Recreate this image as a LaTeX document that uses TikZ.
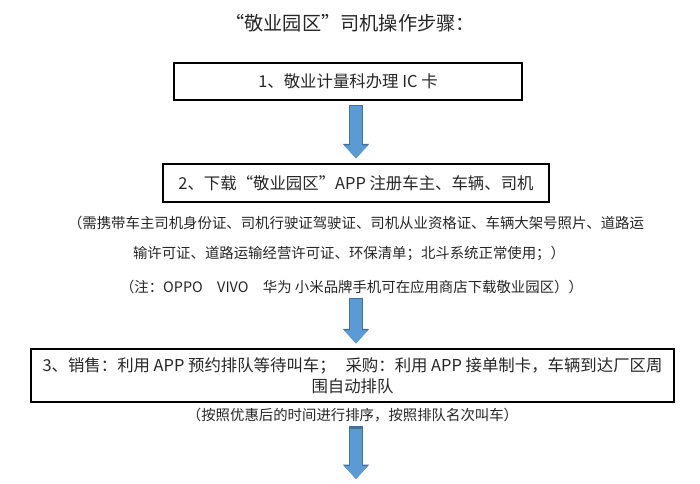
\documentclass[tikz,border=0pt]{standalone}
\usepackage{fontspec}
\setmainfont{Noto Sans CJK SC}
\usetikzlibrary{arrows.meta}
\definecolor{arrowblue}{HTML}{5B9BD5}
\definecolor{arrowedge}{HTML}{41719C}
\definecolor{textgray}{HTML}{262626}

\begin{document}
\begin{tikzpicture}[x=1pt, y=-1pt,
    stepbox/.style={draw=black, line width=1.3pt, inner sep=0pt, text=textgray,
        align=center, font=\fontsize{16.4}{21}\selectfont},
    note/.style={inner sep=0pt, text=textgray, font=\fontsize{14.4}{17}\selectfont},
    flow/.style={line width=12pt, draw=arrowblue, -{Triangle[width=23pt,length=13pt]},
        shorten <=5pt, shorten >=5pt,
        preaction={draw=arrowedge, line width=13.4pt, shorten <=4.3pt,
            -{Triangle[width=25.5pt,length=14.4pt]}}}]
    \useasboundingbox (0,0) rectangle (700,483);

    \node[text=textgray, font=\fontsize{19.2}{23}\selectfont] (title) at (350,23) {“敬业园区”司机操作步骤：};

    \node[stepbox, minimum width=348pt, minimum height=37pt] (box1) at (348,81.5) {1、敬业计量科办理 IC 卡};
    \node[stepbox, minimum width=386pt, minimum height=38pt] (box2) at (356,183) {2、下载“敬业园区”APP 注册车主、车辆、司机};

    \node[note] (note1) at (356,223) {（需携带车主司机身份证、司机行驶证驾驶证、司机从业资格证、车辆大架号照片、道路运};
    \node[note] (note2) at (349,253) {输许可证、道路运输经营许可证、环保清单；北斗系统正常使用；）};
    \node[note] (note3) at (351.5,287) {（注：OPPO\hspace{1em}VIVO\hspace{1em}华为 小米品牌手机可在应用商店下载敬业园区））};

    \node[stepbox, minimum width=643pt, minimum height=53pt] (box3) at (352.5,375.5)
        {3、销售：利用 APP 预约排队等待叫车；\hspace{0.6em}采购：利用 APP 接单制卡，车辆到达厂区周\\围自动排队};
    \node[note] (note4) at (352.5,415) {（按照优惠后的时间进行排序，按照排队名次叫车）};

    \coordinate (tail) at (356,479);

    \draw[flow] (box1.south -| box2.north) -- (box2.north);
    \draw[flow] (note3.south -| box2.north) -- (box3.north -| box2.north);
    \draw[flow, shorten <=7pt, shorten >=0pt] (note4.south -| box2.north) -- (tail);
\end{tikzpicture}
\end{document}
